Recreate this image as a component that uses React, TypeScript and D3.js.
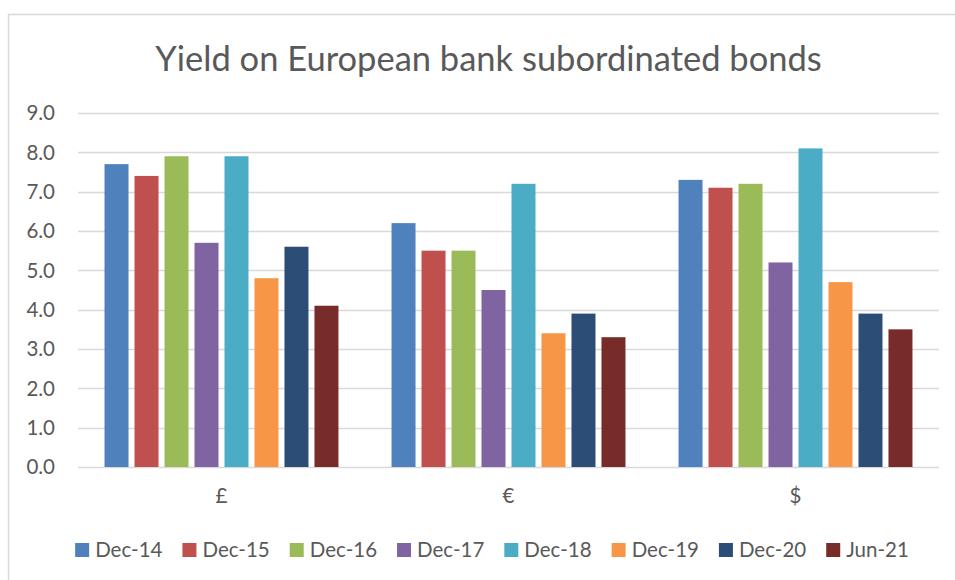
import React, { useEffect, useRef } from "react";
import * as d3 from "d3";

const categories = ["£", "€", "$"];
const seriesNames = ["Dec-14", "Dec-15", "Dec-16", "Dec-17", "Dec-18", "Dec-19", "Dec-20", "Jun-21"];
const colors = ["#4F81BD", "#C0504D", "#9BBB59", "#8064A2", "#4BACC6", "#F79646", "#2C4D75", "#772C2A"];
const gbpValues = [7.7, 7.4, 7.9, 5.7, 7.9, 4.8, 5.6, 4.1];
const eurValues = [6.2, 5.5, 5.5, 4.5, 7.2, 3.4, 3.9, 3.3];
const usdValues = [7.3, 7.1, 7.2, 5.2, 8.1, 4.7, 3.9, 3.5];
const yTicks = [0, 1, 2, 3, 4, 5, 6, 7, 8, 9];
const title = "Yield on European bank subordinated bonds";

const W = 955;
const H = 580;
const FONT = "Lato, 'Open Sans', sans-serif";
const TEXT = "#595959";

export default function App() {
  const ref = useRef<SVGSVGElement>(null);
  useEffect(() => {
    const svg = d3.select(ref.current);
    svg.selectAll("*").remove();
    const table = [gbpValues, eurValues, usdValues];

    svg.append("rect").attr("x", 0).attr("y", 0).attr("width", W).attr("height", H).attr("fill", "#fff");

    // border: top and left edges
    svg.append("line").attr("x1", 8).attr("x2", W).attr("y1", 14.5).attr("y2", 14.5)
      .attr("stroke", "#d9d9d9").attr("stroke-width", 1.5);
    svg.append("line").attr("x1", 8.5).attr("x2", 8.5).attr("y1", 14).attr("y2", H)
      .attr("stroke", "#d9d9d9").attr("stroke-width", 1.5);

    svg.append("text").attr("x", 488.5).attr("y", 71).attr("text-anchor", "middle")
      .attr("font-family", FONT).attr("font-size", 34.5).attr("fill", TEXT).text(title);

    const left = 78, right = 939, top = 113, bottom = 467;
    const y = d3.scaleLinear().domain([0, 9]).range([bottom, top]);
    const x0 = d3.scaleBand<string>().domain(categories).range([left, right]).paddingInner(0.164).paddingOuter(0.082);
    const x1 = d3.scaleBand<string>().domain(seriesNames).range([0, x0.bandwidth()]).paddingInner(0.2).paddingOuter(0.1);

    const g = svg.append("g");
    g.selectAll("line.grid").data(yTicks).enter().append("line")
      .attr("x1", left).attr("x2", right).attr("y1", d => Math.round(y(d)) + 0.5).attr("y2", d => Math.round(y(d)) + 0.5)
      .attr("stroke", "#d9d9d9").attr("stroke-width", 1.5);

    g.selectAll("text.tick").data(yTicks).enter().append("text")
      .attr("x", 55).attr("y", d => y(d)).attr("dy", "0.36em").attr("text-anchor", "end")
      .attr("font-family", FONT).attr("font-size", 20.5).attr("fill", TEXT).text(d => d.toFixed(1));

    categories.forEach((c, ci) => {
      const grp = g.append("g").attr("transform", `translate(${x0(c)},0)`);
      grp.selectAll("rect").data(table[ci]).enter().append("rect")
        .attr("x", (d, i) => x1(seriesNames[i])!)
        .attr("width", x1.bandwidth())
        .attr("y", d => y(d)).attr("height", d => bottom - y(d))
        .attr("fill", (d, i) => colors[i]);
      svg.append("text").attr("x", x0(c)! + x0.bandwidth() / 2).attr("y", 503).attr("text-anchor", "middle")
        .attr("font-family", FONT).attr("font-size", 20.5).attr("fill", TEXT).text(c);
    });

    // legend
    const lg = svg.append("g");
    const items: { t: any; r: any; w: number }[] = [];
    seriesNames.forEach((s, i) => {
      const r = lg.append("rect").attr("y", 543).attr("width", 14).attr("height", 14).attr("fill", colors[i]);
      const t = lg.append("text").attr("y", 550).attr("dy", "0.36em")
        .attr("font-family", FONT).attr("font-size", 20.5).attr("fill", TEXT).text(s);
      const w = (t.node() as SVGTextElement).getComputedTextLength();
      items.push({ t, r, w });
    });
    const gap = 20;
    const total = d3.sum(items, d => 20 + d.w) + gap * (items.length - 1);
    let cx = 492 - total / 2;
    items.forEach(it => {
      it.r.attr("x", cx);
      it.t.attr("x", cx + 20);
      cx += 20 + it.w + gap;
    });
  }, []);
  return (
    <>
      <style>{"html,body{margin:0;padding:0;overflow:hidden;background:#fff}"}</style>
      <svg
        ref={ref}
        width={W}
        height={H}
        style={{ display: "block", position: "absolute", left: 0, top: 0 }}
      />
    </>
  );
}
